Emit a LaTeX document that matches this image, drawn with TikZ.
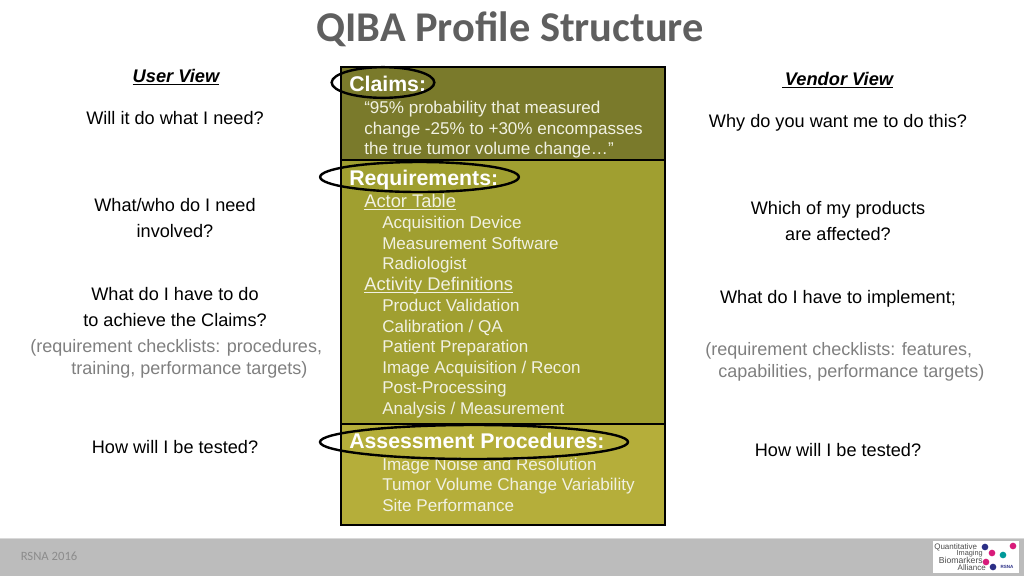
\documentclass[tikz,border=0pt]{standalone}
\usepackage{fontspec}
\setmainfont{Liberation Sans}
\newfontfamily\titlefont{Carlito}
\usetikzlibrary{arrows, positioning, shapes.geometric}
\definecolor{claimcol}{HTML}{7A7A2B}
\definecolor{reqcol}{HTML}{A09F30}
\definecolor{assesscol}{HTML}{B5AE3A}
\definecolor{barcol}{HTML}{BCBCBC}
\definecolor{bodycol}{HTML}{F1F1E2}
\definecolor{notecol}{HTML}{7F7F7F}
\definecolor{headcol}{HTML}{5F5F5F}
\definecolor{logoblue}{HTML}{2B2F86}
\definecolor{logopink}{HTML}{D81B7A}
\newcommand{\ul}[1]{\underline{\smash{#1}}}
\tikzset{
  txt/.style={inner sep=0pt, anchor=base west, font=\fontsize{13.6}{15}\selectfont, text=black},
  ask/.style={txt, anchor=base},
  note/.style={txt, text=notecol, font=\fontsize{13.5}{15}\selectfont},
  inbox/.style={txt, text=bodycol, font=\fontsize{12.8}{15}\selectfont},
  link/.style={inbox, font=\fontsize{13.75}{15}\selectfont},
  head/.style={txt, text=white, font=\fontsize{15.95}{17}\selectfont\bfseries},
  view/.style={ask, font=\fontsize{13.7}{15}\selectfont\bfseries\itshape},
  band/.style={draw=black, line width=1.5pt, inner sep=0pt, outer sep=0pt, anchor=north west},
  ring/.style={draw=black, line width=1.8pt, ellipse, inner sep=0pt, outer sep=0pt},
  dot/.style={circle, inner sep=0pt, minimum size=5pt},
  logotext/.style={inner sep=0pt, anchor=base east, font=\fontsize{6}{6.5}\selectfont, text=black!70}
}
\begin{document}
\begin{tikzpicture}[x=0.75pt, y=-0.75pt]
\useasboundingbox (0,0) rectangle (1024,576);
% footer
\fill[barcol] (0,538) rectangle (1024,576);
\draw[black!15] (0,538) -- (1024,538);
\node[txt, text=black!45, font=\titlefont\fontsize{9.5}{11}\selectfont] (rsna) at (20.5,560) {RSNA 2016};
% title
\node[inner sep=0pt, anchor=base, text=headcol, font=\titlefont\fontsize{31.8}{34}\selectfont\bfseries] (title) at (510,41) {QIBA Profile Structure};
% boxes
\node[band, fill=claimcol, minimum width=243pt, minimum height=69.75pt] (claims) at (341,67) {};
\node[band, fill=reqcol, minimum width=243pt, minimum height=198pt] (reqs) at (341,160) {};
\node[band, fill=assesscol, minimum width=243pt, minimum height=75.75pt] (assess) at (341,424) {};
% left column
\node[view] (user) at (176,82) {\ul{User View}};
\node[ask] (l1) at (175,124) {Will it do what I need?};
\node[ask] (l2) at (175,211) {What/who do I need};
\node[ask] (l3) at (175,237) {involved?};
\node[ask] (l4) at (175,300) {What do I have to do};
\node[ask] (l5) at (175,326) {to achieve the Claims?};
\node[note] (l6) at (30,352) {(requirement checklists: procedures,};
\node[note] (l7) at (71,374) {training, performance targets)};
\node[ask] (l8) at (175,453) {How will I be tested?};
% right column
\node[view] (vendor) at (837.5,85) {\ul{\,Vendor View}};
\node[ask] (r1) at (838,127) {Why do you want me to do this?};
\node[ask] (r2) at (838,214) {Which of my products};
\node[ask] (r3) at (838,240) {are affected?};
\node[ask] (r4) at (838,303) {What do I have to implement;};
\node[note] (r5) at (705,355) {(requirement checklists: features,};
\node[note] (r6) at (718,377) {capabilities, performance targets)};
\node[ask] (r7) at (838,456) {How will I be tested?};
% claims
\node[head] (hclaims) at (349,91) {Claims:};
\node[inbox] (c1) at (364,113) {“95\% probability that measured};
\node[inbox] (c2) at (364,134) {change -25\% to +30\% encompasses};
\node[inbox] (c3) at (364,154) {the true tumor volume change…”};
% requirements
\node[head] (hreqs) at (349,185) {Requirements:};
\node[link] (q1) at (364,207) {\ul{Actor Table}};
\node[inbox] (q2) at (382,228) {Acquisition Device};
\node[inbox] (q3) at (382,249) {Measurement Software};
\node[inbox] (q4) at (382,269) {Radiologist};
\node[link] (q5) at (364,290) {\ul{Activity Definitions}};
\node[inbox] (q6) at (382,311) {Product Validation};
\node[inbox] (q7) at (382,332) {Calibration / QA};
\node[inbox] (q8) at (382,352) {Patient Preparation};
\node[inbox] (q9) at (382,373) {Image Acquisition / Recon};
\node[inbox] (q10) at (382,393) {Post-Processing};
\node[inbox] (q11) at (382,414) {Analysis / Measurement};
% assessment
\node[inbox] (a1) at (382,470) {Image Noise and Resolution};
\node[inbox] (a2) at (382,490) {Tumor Volume Change Variability};
\node[inbox] (a3) at (382,511) {Site Performance};
\node[head] (hassess) at (349,448) {Assessment Procedures:};
% rings
\node[ring, minimum width=77pt, minimum height=23pt] (rclaims) at (383,82.5) {};
\node[ring, minimum width=149pt, minimum height=22.5pt] (rreqs) at (419.5,177) {};
\node[ring, minimum width=231pt, minimum height=25.5pt] (rassess) at (474,442) {};
% logo
\node[fill=white, inner sep=0pt, minimum width=64pt, minimum height=24pt, anchor=north west] (logo) at (933,541) {};
\node[logotext, anchor=base west] (lg1) at (934,549) {Quantitative};
\node[logotext, font=\fontsize{5.5}{6.5}\selectfont] (lg2) at (983,555.5) {Imaging};
\node[logotext, font=\fontsize{6.5}{6.5}\selectfont] (lg3) at (983,563) {Biomarkers};
\node[logotext] (lg4) at (986,570) {Alliance};
\node[dot, fill=logoblue] (d1) at (985,547) {};
\node[dot, fill=logopink] (d2) at (1013,546) {};
\node[dot, fill=logopink] (d3) at (992,553) {};
\node[dot, fill=teal!80!cyan] (d4) at (1003,555) {};
\node[dot, fill=logopink] (d5) at (986,562) {};
\node[dot, fill=logoblue] (d6) at (993,567) {};
\node[inner sep=0pt, text=logoblue, font=\fontsize{3.4}{4}\selectfont\bfseries] (lg5) at (1007,567) {RSNA};
\end{tikzpicture}
\end{document}
